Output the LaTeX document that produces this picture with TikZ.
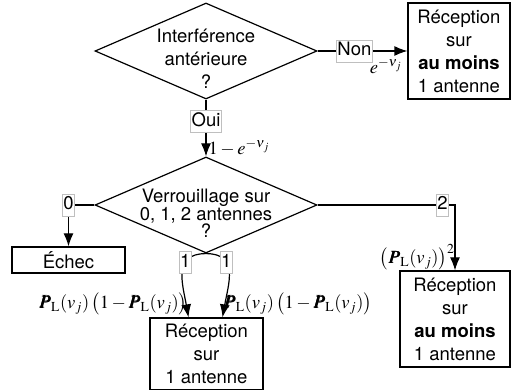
\documentclass[tikz,border=0pt]{standalone}
\usepackage{amsmath}
\usepackage{mathptmx}
\usepackage{bm}
\usepackage[no-math]{fontspec}
\setmainfont{TeX Gyre Heros}
\usetikzlibrary{arrows.meta,shapes.geometric}
\def\PL{\bm{P}_{\mathrm{L}}(v_j)}

\begin{document}
\begin{tikzpicture}[x=1pt, y=-1pt, line width=1.2pt,
		font=\fontsize{18.5}{23}\selectfont,
		arr/.style={-{Latex[length=13pt,width=10pt]}},
		choice/.style={diamond, draw, inner sep=0pt, minimum width=222pt, minimum height=96pt},
		result/.style={draw, align=center, inner sep=0pt},
		lbl/.style={draw=black!25, line width=0.6pt, fill=white, inner xsep=1pt, inner ysep=2pt, text height=14pt, text depth=4pt},
		prob/.style={inner sep=2pt}]
			%%%%% START %%%%%
			\useasboundingbox (0, 0) rectangle (512, 390);
			
			\node[choice] (d1) at (206, 51) {};
			\node[align=center] (t1) at (206, 59) {Interférence\\antérieure\\?};
			\node[result, minimum width=102pt, minimum height=96pt] (r0) at (459, 51) {Réception\\sur\\\textbf{au moins}\\1 antenne};
			
			\node[choice] (d2) at (206, 205) {};
			\node[align=center, font=\fontsize{18.5}{17}\selectfont] (t2) at (206, 213) {Verrouillage sur\\0, 1, 2 antennes\\?};
			
			\node[result, minimum width=113pt, minimum height=26pt] (echec) at (68.5, 260) {Échec};
			\node[result, minimum width=113pt, minimum height=72pt] (r1) at (206.5, 354) {Réception\\sur\\1 antenne};
			\node[result, minimum width=110pt, minimum height=96pt] (r2) at (455, 319) {Réception\\sur\\\textbf{au moins}\\1 antenne};
			
			\draw[arr] (d1.east) -- node[lbl, pos=0.41] (non) {Non} node[prob, pos=0.76, below=5pt] (pnon) {$e^{-\nu_j}$} (r0.west);
			\draw[arr] (d1.south) -- node[lbl, pos=0.39] (oui) {Oui} node[prob, pos=0.85, right] (poui) {$1-e^{-\nu_j}$} (d2.north);
			
			\draw[arr] (d2.west) -| node[lbl, pos=0.5] (zero) {0} (echec.north);
			\draw[arr] (d2.east) -| node[lbl, pos=0.455] (deux) {2} node[prob, pos=0.9, left, xshift=2pt] (pdeux) {$\big(\PL\big)^2$} (r2.north);
			
			\draw[arr] (d2.south) to[out=180, in=100, looseness=1.3] node[lbl, pos=0.33] (una) {1} node[prob, pos=0.86, left, xshift=4pt] (puna) {$\PL\,\big(1-\PL\big)$} ([xshift=-18pt]r1.north);
			\draw[arr] (d2.south) to[out=0, in=80, looseness=1.3] node[lbl, pos=0.33] (unb) {1} node[prob, pos=0.86, right, xshift=-4pt] (punb) {$\PL\,\big(1-\PL\big)$} ([xshift=16pt]r1.north);
			%%%%% END %%%%%
\end{tikzpicture}
\end{document}
